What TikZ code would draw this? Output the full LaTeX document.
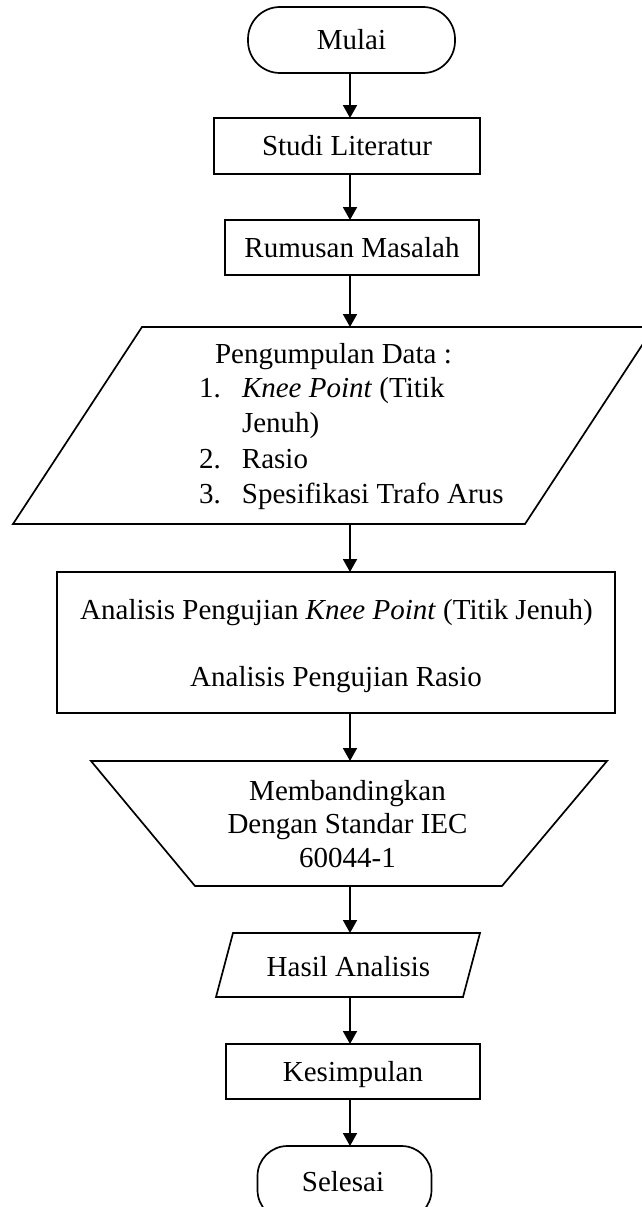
\documentclass[tikz,border=0pt]{standalone}
\usepackage{fontspec}
\setmainfont{Liberation Serif}
\usetikzlibrary{arrows.meta}
\begin{document}
\begin{tikzpicture}[x=1pt,y=-1pt, line width=1.7pt,
  every node/.style={font=\fontsize{29}{35}\selectfont, inner sep=0pt, outer sep=0pt},
  box/.style={draw, rectangle, text height=19.5pt, text depth=0pt},
  term/.style={draw, rectangle, rounded corners=32pt, text height=19.5pt, text depth=0pt},
  frame/.style={rectangle},
  arr/.style={line width=1.9pt, -{Triangle[width=14pt,length=13pt]}},
  lbl/.style={anchor=base},
  lbll/.style={anchor=base west}]
\fill[white] (0,0) rectangle (641,1207);
\useasboundingbox (0,0) rectangle (641,1207);
\coordinate (axis) at (350,0);

% Mulai
\node[term, minimum width=207pt, minimum height=66pt] (mulai) at (351.5,40) {Mulai};
% Studi Literatur
\node[box, minimum width=266pt, minimum height=56pt] (studi) at (347,146) {Studi Literatur};
% Rumusan Masalah
\node[box, minimum width=254pt, minimum height=55pt] (rumusan) at (352,247.5) {Rumusan Masalah};

% Pengumpulan Data (parallelogram)
\node[frame, minimum width=512pt, minimum height=197pt] (data) at (333.5,425.5) {};
\draw (142,327) -- (654,327) -- (525,524) -- (13,524) -- cycle;
\node[lbll] (dt) at (215,363) {Pengumpulan Data :};
\node[lbll] (d1) at (199,397) {\makebox[43pt][l]{1.}\textit{Knee Point} (Titik};
\node[lbll] (d1b) at (242,432) {Jenuh)};
\node[lbll] (d2) at (199,468) {\makebox[43pt][l]{2.}Rasio};
\node[lbll] (d3) at (199,503) {\makebox[43pt][l]{3.}Spesifikasi Trafo Arus};

% Analisis
\node[draw, rectangle, minimum width=558pt, minimum height=141pt] (ana) at (336,642.5) {};
\node[lbl] (a1) at (336.5,619) {Analisis Pengujian \textit{Knee Point} (Titik Jenuh)};
\node[lbl] (a2) at (336,686) {Analisis Pengujian Rasio};

% Membandingkan (trapezoid)
\node[frame, minimum width=516pt, minimum height=125pt] (banding) at (349,823.5) {};
\draw (91,761) -- (607,761) -- (502,886) -- (195,886) -- cycle;
\node[lbl] (b1) at (347.5,800) {Membandingkan};
\node[lbl] (b2) at (347.5,833) {Dengan Standar IEC};
\node[lbl] (b3) at (347.5,867) {60044-1};

% Hasil Analisis (parallelogram)
\node[frame, minimum width=247pt, minimum height=64pt] (hasil) at (348,965) {};
\draw (233,933) -- (480,933) -- (463,997) -- (216,997) -- cycle;
\node[lbl] (ht) at (348.5,976) {Hasil Analisis};

% Kesimpulan
\node[box, minimum width=254pt, minimum height=55pt] (kes) at (353,1071.5) {Kesimpulan};

% Selesai (cut by the lower edge)
\node[draw, rectangle, rounded corners=30pt, minimum width=174pt, minimum height=74pt] (selesai) at (344.5,1183) {};
\node[lbl] (st) at (343,1191) {Selesai};

% connectors
\draw[arr] (mulai.south -| axis) -- (studi.north -| axis);
\draw[arr] (studi.south -| axis) -- (rumusan.north -| axis);
\draw[arr] (rumusan.south -| axis) -- (data.north -| axis);
\draw[arr] (data.south -| axis) -- (ana.north -| axis);
\draw[arr] (ana.south -| axis) -- (banding.north -| axis);
\draw[arr] (banding.south -| axis) -- (hasil.north -| axis);
\draw[arr] (hasil.south -| axis) -- (kes.north -| axis);
\draw[arr] (kes.south -| axis) -- (selesai.north -| axis);
\end{tikzpicture}
\end{document}
